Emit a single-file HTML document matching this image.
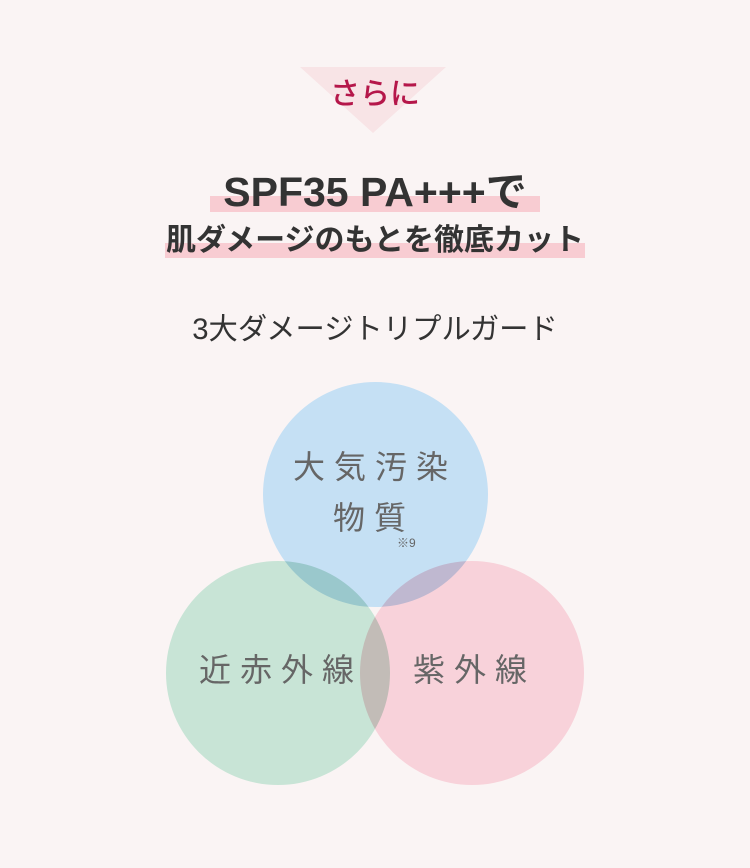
<!DOCTYPE html>
<html><head><meta charset="utf-8"><style>
html,body{margin:0;padding:0}
body{width:750px;height:868px;background:#faf4f4;position:relative;overflow:hidden;font-family:"Liberation Sans","Noto Sans CJK JP",sans-serif}
.abs{position:absolute;white-space:nowrap}
.g{position:absolute;left:0;top:0;width:750px;height:868px;isolation:isolate}
.c{position:absolute;border-radius:50%;mix-blend-mode:multiply}
.t{position:absolute;white-space:nowrap;color:#666;font-size:32px;line-height:32px;letter-spacing:9px}
</style></head><body>
<svg class="abs" style="left:0;top:0" width="750" height="868"><polygon points="300,67 446,67 373,133" fill="#f8e4e6"/></svg>
<div class="abs" style="left:0;width:750px;text-align:center;top:75px;font-size:30px;line-height:40px;color:#b5174a;font-weight:500">さらに</div>
<div class="abs" style="left:210px;width:330px;top:196px;height:16px;background:#f8ccd2"></div>
<div class="abs" style="left:165px;width:420px;top:243px;height:15px;background:#f8ccd2"></div>
<div class="abs" style="left:0;width:750px;text-align:center;top:169px;font-size:41px;line-height:46px;color:#333;font-weight:bold">SPF35 PA+++で</div>
<div class="abs" style="left:0;width:750px;text-align:center;top:223px;font-size:30px;line-height:36px;color:#333;font-weight:bold">肌ダメージのもとを徹底カット</div>
<div class="abs" style="left:0;width:750px;text-align:center;top:312px;font-size:29.3px;line-height:36px;color:#333">3大ダメージトリプルガード</div>
<div class="g">
<div class="c" style="left:263px;top:382px;width:225px;height:225px;background:#c5e0f4"></div>
<div class="c" style="left:166px;top:561px;width:224px;height:224px;background:#c8e4d6"></div>
<div class="c" style="left:360px;top:561px;width:224px;height:224px;background:#f8d2da"></div>
</div>
<div class="t" style="left:293px;top:451px">大気汚染</div>
<div class="t" style="left:333px;top:502px">物質</div>
<div class="abs" style="left:397px;top:536px;font-size:12px;line-height:14px;color:#666">※9</div>
<div class="t" style="left:199px;top:654px">近赤外線</div>
<div class="t" style="left:413px;top:654px">紫外線</div>
</body></html>
